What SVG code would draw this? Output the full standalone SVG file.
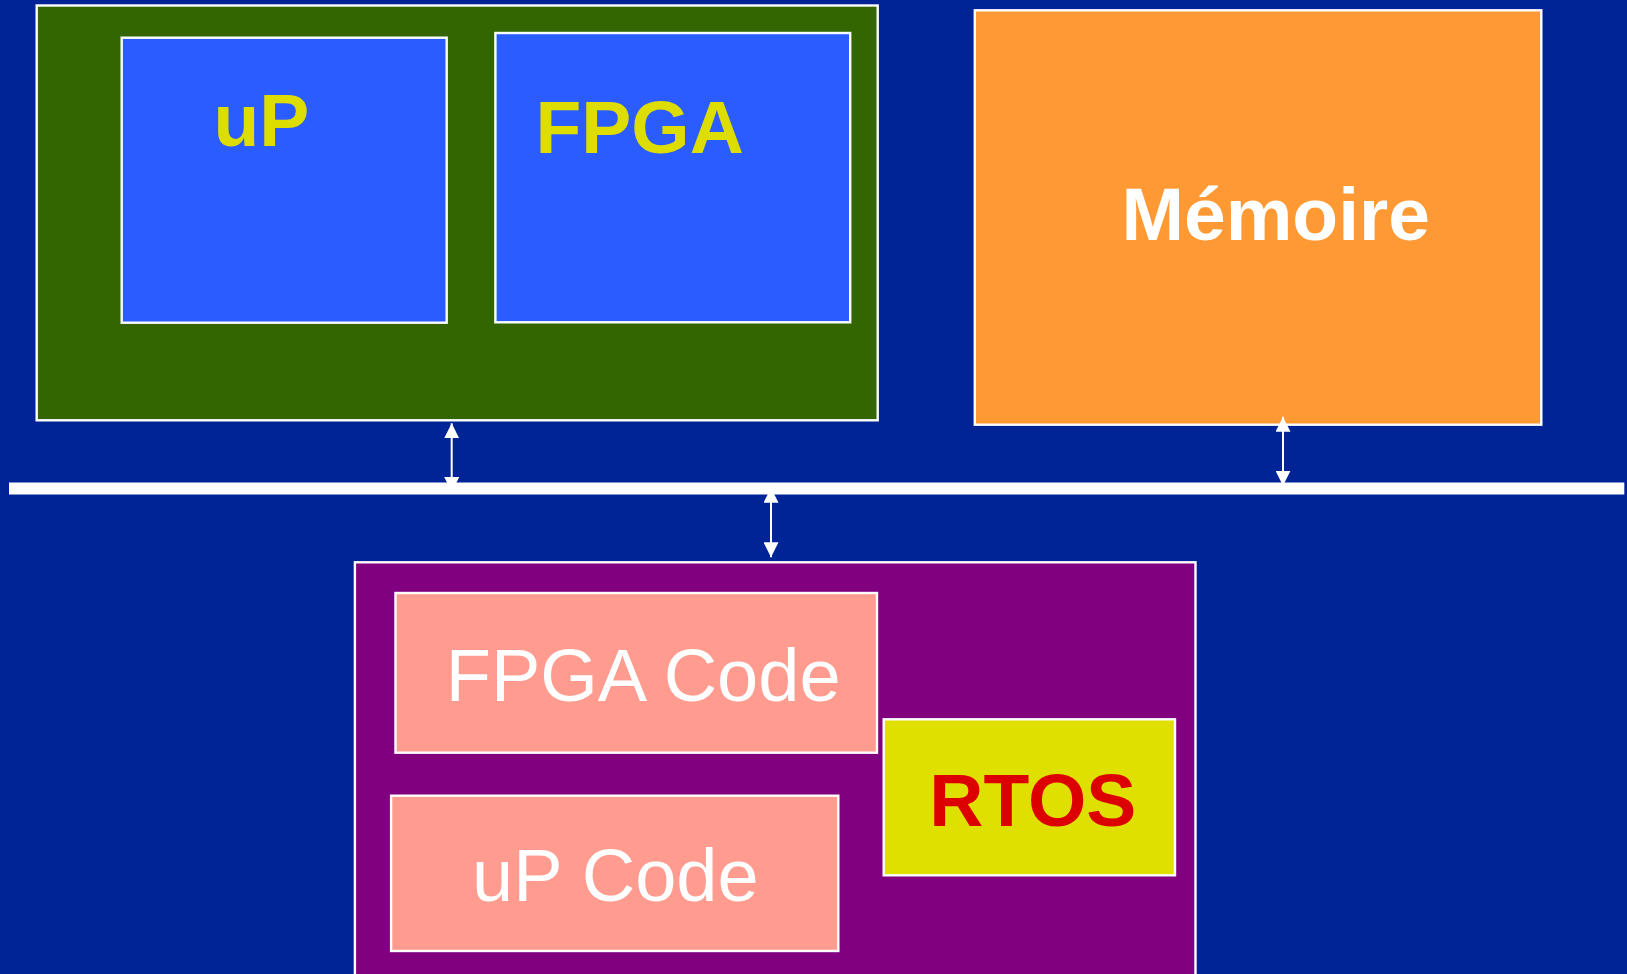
<svg xmlns="http://www.w3.org/2000/svg" width="1627" height="974" viewBox="0 0 1627 974">
  <style>
    .box { stroke: #ffffff; stroke-width: 2.4; }
    .title { font-family: "Liberation Sans", Arial, sans-serif; font-size: 75px; font-weight: bold; }
    .code { font-family: "Liberation Sans", Arial, sans-serif; font-size: 74px; fill: #ffffff; }
    .link { stroke: #ffffff; stroke-width: 2; fill: none; marker-start: url(#tip); marker-end: url(#tip); }
  </style>
  <defs>
    <marker id="tip" markerUnits="userSpaceOnUse" markerWidth="15" markerHeight="15" refX="15" refY="7.5" orient="auto-start-reverse">
      <path d="M0,0 L15,7.5 L0,15 Z" fill="#ffffff"/>
    </marker>
  </defs>

  <rect x="0" y="0" width="1627" height="974" fill="#002496"/>

  <!-- board with processor and FPGA -->
  <g id="board">
    <rect class="box" x="36.7" y="5.5" width="841" height="414.8" fill="#336600"/>
    <g id="up">
      <rect class="box" x="121.7" y="37.7" width="325" height="285" fill="#2A5CFF"/>
      <text class="title" x="213.4" y="146" fill="#DDDD00">uP</text>
    </g>
    <g id="fpga">
      <rect class="box" x="495.4" y="33" width="354.8" height="289.3" fill="#2A5CFF"/>
      <text class="title" x="535.5" y="153" fill="#DDDD00">FPGA</text>
    </g>
  </g>

  <!-- memory -->
  <g id="memoire">
    <rect class="box" x="974.8" y="10.3" width="566.5" height="414.4" fill="#FF9933"/>
    <text class="title" x="1121.5" y="240" fill="#ffffff">Mémoire</text>
  </g>

  <!-- software image -->
  <g id="software">
    <rect class="box" x="354.9" y="562.3" width="840.6" height="430" fill="#800080"/>
    <g id="fpga-code">
      <rect class="box" x="395.5" y="593" width="481.5" height="159.7" fill="#FF9B8F"/>
      <text class="code" x="445.7" y="700.7">FPGA Code</text>
    </g>
    <g id="up-code">
      <rect class="box" x="391.1" y="795.7" width="447.2" height="155.3" fill="#FF9B8F"/>
      <text class="code" x="472" y="901">uP Code</text>
    </g>
    <g id="rtos">
      <rect class="box" x="883.7" y="719.3" width="291.3" height="156" fill="#E0E000"/>
      <text class="title" x="929.3" y="825.7" fill="#DD0000">RTOS</text>
    </g>
  </g>

  <!-- bus links -->
  <g id="connectors">
    <line class="link" x1="451.7" y1="423.3" x2="451.7" y2="492"/>
    <line class="link" x1="1283" y1="416.7" x2="1283" y2="485.7"/>
    <line class="link" x1="771" y1="487.7" x2="771" y2="557.3"/>
  </g>

  <!-- system bus -->
  <g id="bus">
    <rect x="9" y="482.5" width="1615.3" height="12" fill="#ffffff"/>
  </g>
</svg>
